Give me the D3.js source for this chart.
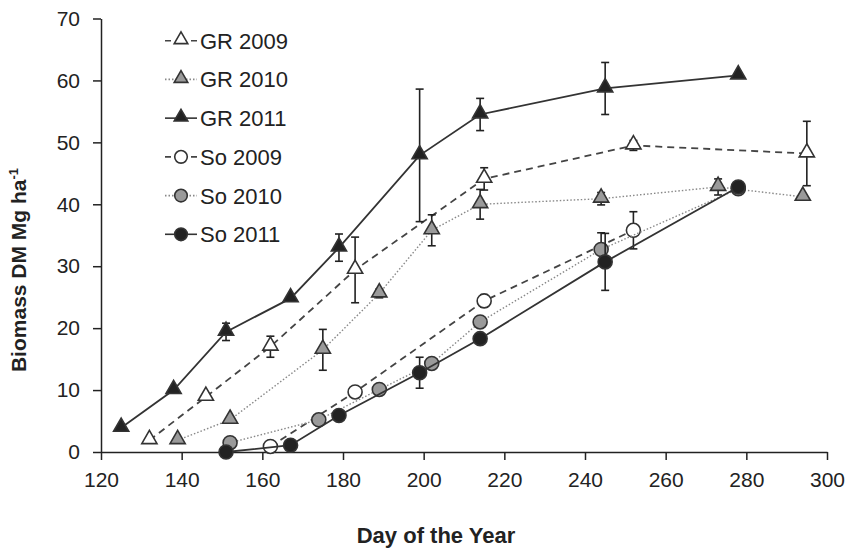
<!DOCTYPE html>
<html>
<head>
<meta charset="utf-8">
<script src="https://cdn.jsdelivr.net/npm/d3@7"></script>
<style>
	body { margin: 0; background: #fff; }
	text { font-family: "Liberation Sans", Arial, sans-serif; fill: #222; }
</style>
</head>
<body>
<svg id="chart" width="849" height="549"></svg>
<script>
// values: [day, biomass, error]
var gr2009 = [[132,1.9,0],[146,8.9,0],[162,17.0,1.7],[183,29.4,5.3],[215,44.1,1.8],[252,49.5,0.8],[295,48.2,5.2]];
var gr2010 = [[139,1.9,0],[152,5.2,0],[175,16.5,3.3],[189,25.6,0.7],[202,35.8,2.5],[214,40.0,2.4],[244,40.9,1.0],[273,42.8,1.3],[294,41.2,0]];
var gr2011 = [[125,3.9,0],[138,10.0,0],[151,19.4,1.4],[167,24.8,0],[179,33.0,2.2],[199,47.9,10.7],[214,54.5,2.6],[245,58.7,4.2],[278,60.8,0]];
var so2009 = [[162,0.9,0],[183,9.7,0],[215,24.4,1.0],[252,35.8,3.0]];
var so2010 = [[152,1.5,0],[174,5.2,0],[189,10.1,0],[202,14.3,0],[214,21.0,0],[244,32.7,2.7],[278,42.5,0]];
var so2011 = [[151,0.0,0],[167,1.1,0],[179,5.9,0],[199,12.8,2.5],[214,18.3,0],[245,30.7,4.6],[278,42.8,0]];

var xTicks = [120,140,160,180,200,220,240,260,280,300];
var yTicks = [0,10,20,30,40,50,60,70];

var series = [
	{ name: "GR 2009", data: gr2009, shape: "tri", fill: "#fff", dash: "7,5", lineColor: "#444", legendDash: "6,20" },
	{ name: "GR 2010", data: gr2010, shape: "tri", fill: "#9a9a9a", dash: "1.5,2", lineColor: "#888", legendDash: "1.5,2" },
	{ name: "GR 2011", data: gr2011, shape: "tri", fill: "#222", dash: null, lineColor: "#333", legendDash: null },
	{ name: "So 2009", data: so2009, shape: "circ", fill: "#fff", dash: "7,5", lineColor: "#444", legendDash: "6,20" },
	{ name: "So 2010", data: so2010, shape: "circ", fill: "#9a9a9a", dash: "1.5,2", lineColor: "#888", legendDash: "1.5,2" },
	{ name: "So 2011", data: so2011, shape: "circ", fill: "#222", dash: null, lineColor: "#333", legendDash: null }
];

var svg = d3.select("#chart");

var x = d3.scaleLinear().domain([120, 300]).range([101, 827]);
var y = d3.scaleLinear().domain([0, 70]).range([452, 18.5]);

// axes
var xAxis = svg.append("g")
	.attr("transform", "translate(0," + y(0) + ")")
	.call(d3.axisBottom(x).tickValues(xTicks).tickSize(8).tickSizeOuter(0).tickPadding(12));
var yAxis = svg.append("g")
	.attr("transform", "translate(" + x(120) + ",0)")
	.call(d3.axisLeft(y).tickValues(yTicks).tickSize(8).tickSizeOuter(0).tickPadding(13));

[xAxis, yAxis].forEach(function(a) {
	a.selectAll("path, line").attr("stroke", "#222").attr("stroke-width", 1.5);
	a.selectAll("text").attr("font-size", 21).attr("fill", "#222");
});

// axis titles
svg.append("text")
	.attr("x", 436).attr("y", 543)
	.attr("text-anchor", "middle")
	.attr("font-size", 22).attr("font-weight", "bold")
	.text("Day of the Year");

var yt = svg.append("text")
	.attr("transform", "translate(26,270) rotate(-90)")
	.attr("text-anchor", "middle")
	.attr("font-size", 21).attr("font-weight", "bold");
yt.append("tspan").text("Biomass DM Mg ha");
yt.append("tspan").attr("dy", -8).attr("font-size", 13).text("-1");

var line = d3.line()
	.x(function(d) { return x(d[0]); })
	.y(function(d) { return y(d[1]); });

function drawMarker(g, s, cx, cy, r) {
	if (s.shape === "tri") {
		g.append("path")
			.attr("d", d3.symbol().type(d3.symbolTriangle).size(r)())
			.attr("transform", "translate(" + cx + "," + (cy - 1) + ")")
			.attr("fill", s.fill).attr("stroke", "#333").attr("stroke-width", 1.6);
	} else {
		g.append("circle")
			.attr("cx", cx).attr("cy", cy).attr("r", r)
			.attr("fill", s.fill).attr("stroke", "#333").attr("stroke-width", 1.6);
	}
}

// series
series.forEach(function(s) {
	var g = svg.append("g");

	g.append("path")
		.datum(s.data)
		.attr("d", line)
		.attr("fill", "none")
		.attr("stroke", s.lineColor)
		.attr("stroke-width", s.dash === "1.5,2" ? 1.4 : 1.8)
		.attr("stroke-dasharray", s.dash);

	var err = s.data.filter(function(d) { return d[2] > 0; });
	err.forEach(function(d) {
		var cx = x(d[0]), top = y(d[1] + d[2]), bot = y(d[1] - d[2]);
		g.append("line").attr("x1", cx).attr("x2", cx).attr("y1", top).attr("y2", bot)
			.attr("stroke", "#222").attr("stroke-width", 1.6);
		[top, bot].forEach(function(yy) {
			g.append("line").attr("x1", cx - 4).attr("x2", cx + 4).attr("y1", yy).attr("y2", yy)
				.attr("stroke", "#222").attr("stroke-width", 1.6);
		});
	});

	s.data.forEach(function(d) {
		drawMarker(g, s, x(d[0]), y(d[1]), s.shape === "tri" ? 100 : 7);
	});
});

// legend
var legendY = d3.scalePoint().domain(series.map(function(s) { return s.name; })).range([40.7, 234.3]);

series.forEach(function(s) {
	var ly = legendY(s.name);
	var g = svg.append("g");
	g.append("line")
		.attr("x1", 165).attr("x2", 197).attr("y1", ly).attr("y2", ly)
		.attr("stroke", s.lineColor).attr("stroke-width", 1.6)
		.attr("stroke-dasharray", s.legendDash);
	drawMarker(g, s, 181, ly, s.shape === "tri" ? 80 : 6.3);
	g.append("text")
		.attr("x", 200).attr("y", ly)
		.attr("dy", "0.36em")
		.attr("font-size", 22)
		.text(s.name);
});
</script>
</body>
</html>
